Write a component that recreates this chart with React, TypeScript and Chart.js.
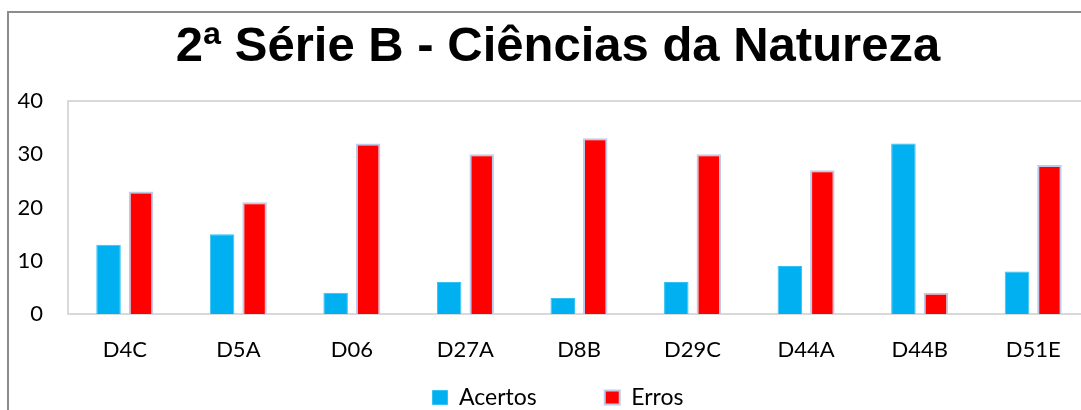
import React, { useEffect, useRef } from "react";
import { Chart, registerables } from "chart.js";

Chart.register(...registerables);

const categories = ["D4C", "D5A", "D06", "D27A", "D8B", "D29C", "D44A", "D44B", "D51E"];
const acertos = [13, 15, 4, 6, 3, 6, 9, 32, 8];
const erros = [23, 21, 32, 30, 33, 30, 27, 4, 28];
const yTicks = [0, 10, 20, 30, 40];
const titleText = "2ª Série B - Ciências da Natureza";

const LEGEND_PAD = 68;
const LEGEND_ITEM_Y = 373;

const plotFrame = {
  id: "plotFrame",
  afterLayout(chart: any) {
    const l = chart.legend;
    if (l) {
      const h = l.bottom - l.top;
      l.top = LEGEND_ITEM_Y - LEGEND_PAD;
      l.bottom = l.top + h;
    }
  },
  beforeDatasetsDraw(chart: any) {
    const { ctx, chartArea } = chart;
    ctx.save();
    ctx.strokeStyle = "#d9d9d9";
    ctx.lineWidth = 2;
    ctx.strokeRect(chartArea.left, chartArea.top, chartArea.right - chartArea.left, chartArea.bottom - chartArea.top);
    ctx.restore();
  },
};

export default function App() {
  const ref = useRef<HTMLCanvasElement>(null);
  useEffect(() => {
    if (!ref.current) return;
    const chart = new Chart(ref.current, {
      type: "bar",
      data: {
        labels: categories,
        datasets: [
          {
            label: "Acertos",
            data: acertos,
            backgroundColor: "#00b0f0",
            borderColor: "#33c1f3",
            borderWidth: 1,
          },
          {
            label: "Erros",
            data: erros,
            backgroundColor: "#ff0000",
            borderColor: "#bccbea",
            borderWidth: 2,
          },
        ],
      },
      plugins: [plotFrame],
      options: {
        animation: false,
        responsive: false,
        events: [],
        layout: { padding: 0 },
        datasets: { bar: { categoryPercentage: 0.5724, barPercentage: 0.754 } },
        plugins: {
          title: {
            display: true,
            text: titleText,
            color: "#000",
            font: { family: "'Liberation Sans', Arial, sans-serif", size: 49, weight: "bold", lineHeight: 1.2 },
            padding: { top: 5, bottom: 24.2 },
          },
          legend: {
            position: "bottom",
            labels: {
              color: "#000",
              boxWidth: 15,
              boxHeight: 14,
              padding: LEGEND_PAD,
              font: { family: "Lato, sans-serif", size: 23 },
            },
          },
          tooltip: { enabled: false },
        },
        scales: {
          x: {
            grid: { display: false, drawTicks: false },
            border: { display: false },
            ticks: { color: "#000", padding: 23, font: { family: "Lato, sans-serif", size: 22 } },
            afterFit: (s: any) => {
              s.height = 50;
            },
          },
          y: {
            min: 0,
            max: 40,
            afterBuildTicks: (s: any) => {
              s.ticks = yTicks.map((v) => ({ value: v }));
            },
            grid: { display: false, drawTicks: false },
            border: { display: false },
            ticks: { color: "#000", padding: 25, font: { family: "Lato, sans-serif", size: 22 } },
            afterFit: (s: any) => {
              s.width = 59;
            },
          },
          yRight: {
            position: "right",
            grid: { display: false, drawTicks: false },
            border: { display: false },
            ticks: { display: false },
            afterFit: (s: any) => {
              s.width = 17;
            },
          },
        },
      },
    });
    return () => chart.destroy();
  }, []);

  return (
    <div style={{ position: "fixed", left: 0, top: 0, width: 1081, height: 410, overflow: "hidden", background: "#fff" }}>
      <div
        style={{
          position: "absolute",
          left: 7,
          top: 11,
          width: 1200,
          height: 500,
          borderLeft: "2px solid #8c8c8c",
          borderTop: "2px solid #8c8c8c",
        }}
      >
        <canvas ref={ref} width={1098} height={452} style={{ display: "block" }} />
      </div>
    </div>
  );
}
